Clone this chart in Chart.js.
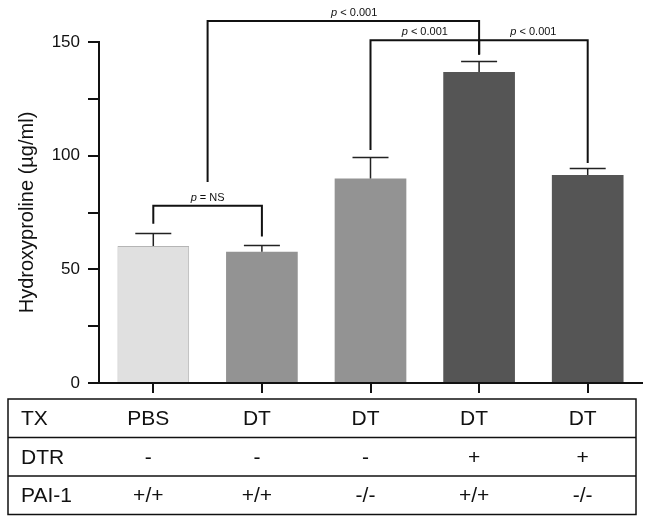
<!DOCTYPE html>
<html>
<head>
<meta charset="utf-8">
<script src="https://cdn.jsdelivr.net/npm/chart.js@4.4.0/dist/chart.umd.min.js"></script>
<style>
    html, body { margin: 0; padding: 0; background: #fff; }
</style>
</head>
<body>
<canvas id="hypChart" width="645" height="523"></canvas>
<script>
// datos
const groups = ['PBS +/+', 'DT +/+', 'DT -/-', 'DT DTR +/+', 'DT DTR -/-'];
const hydroxyproline = [60.3, 57.7, 90.0, 136.8, 91.5];
const sem = [5.8, 3.0, 9.3, 4.9, 2.9];
const yTicks = [0, 50, 100, 150];

// tabla debajo del eje x
const rowLabels = ['TX', 'DTR', 'PAI-1'];
const txRow = ['PBS', 'DT', 'DT', 'DT', 'DT'];
const dtrRow = ['-', '-', '-', '+', '+'];
const paiRow = ['+/+', '+/+', '-/-', '+/+', '-/-'];

// comparaciones: grupo a, grupo b, texto p
const compA = [0, 0.5, 2, 3];
const compB = [1, 3, 3, 4];
const compP = ['= NS', '< 0.001', '< 0.001', '< 0.001'];

const barColors = ['#e0e0e0', '#939393', '#939393', '#555555', '#555555'];
const FONT = "'Liberation Sans', Arial, sans-serif";
const INK = '#111';

// altura de cada corchete y de sus patas (en unidades del eje y)
const bracketLevel = [78, 159.2, 150.8, 150.8];
const legA = [70, 88.4, 102.5, 144.5];
const legB = [64.4, 144.5, 144.5, 96.8];
const labelAt = [0.5, 1.85, 2.5, 3.5];

const annotate = {
    id: 'annotate',
    afterDatasetsDraw(chart) {
        const { ctx, scales: { y } } = chart;
        ctx.save();
        ctx.strokeStyle = '#222';
        ctx.lineWidth = 1.5;
        chart.getDatasetMeta(0).data.forEach((bar, i) => {
            const top = Math.round(y.getPixelForValue(hydroxyproline[i] + sem[i])) + 0.5;
            ctx.beginPath();
            ctx.moveTo(bar.x, bar.y);
            ctx.lineTo(bar.x, top);
            ctx.moveTo(bar.x - 18, top);
            ctx.lineTo(bar.x + 18, top);
            ctx.stroke();
        });
        ctx.restore();
    },
    afterDraw(chart) {
        const { ctx, scales: { x, y }, chartArea } = chart;
        ctx.save();

        // corchetes de significancia
        ctx.strokeStyle = INK;
        ctx.lineWidth = 2;
        compA.forEach((a, k) => {
            const xa = x.getPixelForValue(a);
            const xb = x.getPixelForValue(compB[k]);
            const yl = y.getPixelForValue(bracketLevel[k]);
            ctx.beginPath();
            ctx.moveTo(xa, y.getPixelForValue(legA[k]));
            ctx.lineTo(xa, yl);
            ctx.lineTo(xb, yl);
            ctx.lineTo(xb, y.getPixelForValue(legB[k]));
            ctx.stroke();

            // etiqueta con la p en cursiva
            const italic = 'italic 11px ' + FONT;
            const normal = '11px ' + FONT;
            ctx.font = italic;
            const wp = ctx.measureText('p ').width;
            ctx.font = normal;
            const wr = ctx.measureText(compP[k]).width;
            const cx = x.getPixelForValue(labelAt[k]);
            const x0 = cx - (wp + wr) / 2;
            const base = yl - 5;
            ctx.fillStyle = INK;
            ctx.textAlign = 'left';
            ctx.textBaseline = 'alphabetic';
            ctx.font = italic;
            ctx.fillText('p ', x0, base);
            ctx.font = normal;
            ctx.fillText(compP[k], x0 + wp, base);
        });

        // tabla
        const left = 8, right = chart.width - 9;
        const top = chartArea.bottom + 16;
        const rowH = 38.5;
        ctx.lineWidth = 1.5;
        ctx.strokeRect(left, top, right - left, rowH * 3);
        for (let r = 1; r < 3; r++) {
            ctx.beginPath();
            ctx.moveTo(left, top + rowH * r);
            ctx.lineTo(right, top + rowH * r);
            ctx.stroke();
        }
        ctx.font = '21px ' + FONT;
        ctx.fillStyle = INK;
        ctx.textBaseline = 'middle';
        [txRow, dtrRow, paiRow].forEach((row, r) => {
            const cy = top + rowH * r + rowH / 2 + 1;
            ctx.textAlign = 'left';
            ctx.fillText(rowLabels[r], 21, cy);
            ctx.textAlign = 'center';
            row.forEach((txt, i) => ctx.fillText(txt, x.getPixelForValue(i) - 5, cy));
        });
        ctx.restore();
    }
};

const ctx = document.getElementById('hypChart').getContext('2d');
new Chart(ctx, {
    type: 'bar',
    data: {
        labels: groups,
        datasets: [{
            data: hydroxyproline,
            backgroundColor: barColors,
            borderColor: '#b5b5b5',
            borderWidth: [1, 0, 0, 0, 0],
            barPercentage: 0.66,
            categoryPercentage: 1.0
        }]
    },
    options: {
        responsive: false,
        animation: false,
        layout: { padding: { top: 42, right: 3, bottom: 130, left: 0 } },
        plugins: { legend: { display: false }, tooltip: { enabled: false } },
        scales: {
            x: {
                offset: true,
                ticks: { display: false },
                grid: { offset: false, drawOnChartArea: false, tickLength: 10, color: INK, lineWidth: 2 },
                border: { display: true, color: INK, width: 2 }
            },
            y: {
                min: 0,
                max: 150,
                afterFit: (scale) => { scale.width = 99; },
                ticks: {
                    stepSize: 25,
                    padding: 8,
                    color: INK,
                    font: { family: FONT, size: 17 },
                    callback: (v) => yTicks.includes(v) ? v : ''
                },
                grid: { drawOnChartArea: false, tickLength: 11, color: INK, lineWidth: 2 },
                border: { display: true, color: INK, width: 2 },
                title: {
                    display: true,
                    text: 'Hydroxyproline (µg/ml)',
                    color: INK,
                    font: { family: FONT, size: 20 },
                    padding: { top: 15, bottom: 0 }
                }
            }
        }
    },
    plugins: [annotate]
});
</script>
</body>
</html>
